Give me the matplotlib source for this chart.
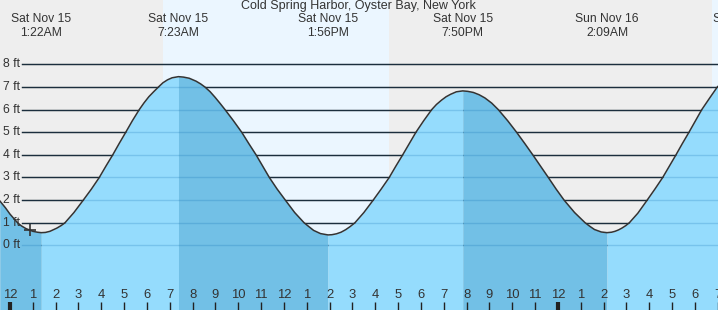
import matplotlib.pyplot as plt
import numpy as np
from matplotlib.transforms import blended_transform_factory

plt.rcParams['font.family'] = ['Liberation Sans', 'DejaVu Sans']

# water level (ft), hours after midnight Sat Nov 15
hours = [-0.45, -0.2, 0.0, 0.33, 0.5, 0.7, 1.0, 1.2, 1.37, 1.55, 1.75, 2.05,
         2.25, 2.41, 2.8, 3.21, 3.56, 3.91, 4.2, 4.5, 4.78, 5.07, 5.36, 5.66,
         5.87, 6.08, 6.3, 6.5, 6.7, 6.9, 7.1, 7.38, 7.6, 7.85, 8.15, 8.35,
         8.54, 8.76, 8.98, 9.2, 9.42, 9.78, 10.15, 10.46, 10.78, 11.07, 11.36,
         11.7, 12.06, 12.47, 12.88, 13.1, 13.3, 13.6, 13.93, 14.1, 14.3, 14.5,
         14.7, 14.9, 15.11, 15.5, 15.91, 16.26, 16.61, 16.9, 17.2, 17.49,
         17.78, 18.12, 18.47, 18.68, 18.9, 19.1, 19.3, 19.55, 19.83, 20.05,
         20.3, 20.55, 20.8, 21.1, 21.39, 21.8, 22.19, 22.55, 22.9, 23.24,
         23.58, 23.92, 24.27, 24.73, 25.19, 25.4, 25.6, 25.9, 26.15, 26.35,
         26.5, 26.65, 26.8, 26.97, 27.13, 27.5, 27.91, 28.25, 28.59, 28.88,
         29.17, 29.45, 29.74, 30.02, 30.3, 30.65, 30.98, 31.3]
level = [1.97, 1.66, 1.38, 1.0, 0.86, 0.74, 0.62, 0.58, 0.56, 0.57, 0.62, 0.76,
         0.88, 1.0, 1.45, 2.0, 2.48, 3.0, 3.5, 4.0, 4.5, 5.0, 5.51, 6.0,
         6.3, 6.57, 6.8, 7.0, 7.19, 7.32, 7.41, 7.46, 7.44, 7.39, 7.26, 7.14,
         7.0, 6.8, 6.55, 6.28, 6.0, 5.52, 5.0, 4.5, 4.0, 3.5, 3.0,
         2.49, 2.0, 1.45, 1.0, 0.82, 0.66, 0.52, 0.46, 0.47, 0.51, 0.58,
         0.69, 0.83, 1.0, 1.45, 2.0, 2.49, 3.0, 3.5, 4.0, 4.5,
         5.0, 5.51, 6.0, 6.23, 6.42, 6.57, 6.68, 6.79, 6.83, 6.81,
         6.76, 6.66, 6.52, 6.29, 6.0, 5.51, 5.0, 4.5, 4.0, 3.5,
         3.0, 2.49, 2.0, 1.45, 1.0, 0.84, 0.70, 0.59, 0.56, 0.58,
         0.62, 0.68, 0.76, 0.87, 1.0, 1.42, 2.0, 2.49, 3.0, 3.5,
         4.0, 4.5, 5.0, 5.5, 6.0, 6.52, 7.0, 7.3]

# tide turns
turn_hours = [1.37, 7.38, 13.93, 19.83, 26.15, 32.17]
turn_kind = ['low', 'high', 'low', 'high', 'low', 'high']
turn_day = ['Sat Nov 15', 'Sat Nov 15', 'Sat Nov 15', 'Sat Nov 15', 'Sun Nov 16', 'Sun Nov 16']
turn_time = ['1:22AM', '7:23AM', '1:56PM', '7:50PM', '2:09AM', '8:10AM']

# daylight
sunrise = [6.72, 30.73]
sunset = [16.62, 40.6]

now_hour, now_level = 0.88, 0.67

ft_ticks = [0, 1, 2, 3, 4, 5, 6, 7, 8]
hour_ticks = list(range(0, 32))
hour_labels = ['12', '1', '2', '3', '4', '5', '6', '7', '8', '9', '10', '11',
               '12', '1', '2', '3', '4', '5', '6', '7', '8', '9', '10', '11',
               '12', '1', '2', '3', '4', '5', '6', '7']

W, H = 718, 310
fig = plt.figure(figsize=(W / 100, H / 100), dpi=100)
ax = fig.add_axes([0, 0, 1, 1])
ax.set_xlim(-10 / 22.83, 708 / 22.83)
ax.set_ylim(-2.86, 10.85)
ax.axis('off')
ax.add_patch(plt.Rectangle((0, 0), 1, 1, transform=ax.transAxes, color='#eeeeee', zorder=-1))

for a, b in zip(sunrise, sunset):
    ax.axvspan(a, b, color='#ebf6ff', zorder=0, lw=0)

# grid lines above water
for v in ft_ticks:
    ax.axhline(v, xmin=22 / W, color='#222222', lw=1, zorder=1)

# water: rising light, falling dark
t = np.array(hours)
h = np.array(level)
bounds = [-5] + turn_hours + [45]
ends = ['low'] + turn_kind + ['low']
for i in range(len(bounds) - 1):
    m = (t >= bounds[i]) & (t <= bounds[i + 1])
    if m.sum() < 2:
        continue
    col = '#72c0e6' if ends[i + 1] == 'low' else '#95dcfd'
    ax.fill_between(t[m], h[m], -5, color=col, lw=0, zorder=2)

# grid lines seen through the water
for v in ft_ticks:
    ax.axhline(v, xmin=22 / W, color=(0, 0.39, 0.67, 0.2), lw=1, zorder=3)

ax.plot(t, h, color='#333333', lw=1.1, zorder=4)
ax.plot(now_hour, now_level, marker='+', ms=9, mew=1.2, color='#333333', zorder=5)

ytr = blended_transform_factory(ax.transAxes, ax.transData)
for v in ft_ticks:
    ax.text(3 / W, v, f'{v} ft', transform=ytr, ha='left', va='center',
            fontsize=8.7, color='#333333', zorder=6)

xtr = blended_transform_factory(ax.transData, ax.transAxes)
for hr, lbl in zip(hour_ticks, hour_labels):
    ax.text(hr, 1 - 295.5 / H, lbl, transform=xtr, ha='center', va='center',
            fontsize=9.4, color='#333333', zorder=6)
    lw = 3 if hr % 24 == 0 else 1
    ax.vlines(hr, 0, 8.5 / H, transform=xtr, color='#222222', lw=lw, zorder=6)

for th, d, tm in zip(turn_hours, turn_day, turn_time):
    ax.text(th, 1 - 19.5 / H, d, transform=xtr, ha='center', va='center',
            fontsize=8.7, color='#333333', zorder=6)
    ax.text(th, 1 - 32.5 / H, tm, transform=xtr, ha='center', va='center',
            fontsize=8.7, color='#333333', zorder=6)

fig.text(358 / W, 1 - 6.5 / H, 'Cold Spring Harbor, Oyster Bay, New York',
         ha='center', va='center', fontsize=9.0, color='#333333')

fig.savefig('out.png', dpi=100)
